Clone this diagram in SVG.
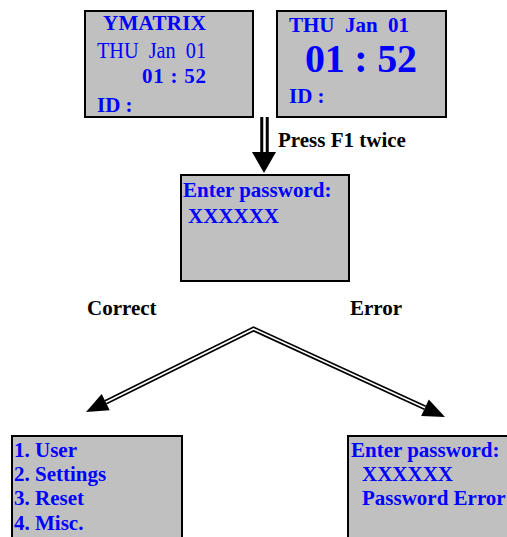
<svg xmlns="http://www.w3.org/2000/svg" width="507" height="537" viewBox="0 0 507 537">
<style>
.box{fill:#C0C0C0;stroke:#000;stroke-width:2}
.t{font-family:"Liberation Serif","Times New Roman",serif;font-size:21px;font-weight:bold;fill:#0000FF}
.tn{font-family:"Liberation Serif","Times New Roman",serif;font-size:23px;fill:#0000FF}
.lbl{font-family:"Liberation Serif","Times New Roman",serif;font-size:21px;font-weight:bold;fill:#000}
.outer{fill:none;stroke:#000;stroke-linejoin:miter}
.inner{fill:none;stroke:#fff;stroke-linejoin:miter}
</style>
<rect width="507" height="537" fill="#fff"/>
<g id="screen-idle-1">
<rect class="box" x="85" y="11" width="168" height="106"/>
<text class="t" x="103" y="30" textLength="103">YMATRIX</text>
<text class="tn" x="97" y="58" textLength="109" lengthAdjust="spacingAndGlyphs" xml:space="preserve">THU  Jan  01</text>
<text class="t" x="142" y="83" textLength="64" xml:space="preserve">01 : 52</text>
<text class="t" x="97" y="112" xml:space="preserve">ID :</text>
</g>
<g id="screen-idle-2">
<rect class="box" x="277" y="11" width="169" height="106"/>
<text class="t" x="289" y="32" textLength="120" xml:space="preserve">THU  Jan  01</text>
<text class="t" x="305" y="72" style="font-size:40px" textLength="112" xml:space="preserve">01 : 52</text>
<text class="t" x="289" y="103" xml:space="preserve">ID :</text>
</g>
<g id="screen-password">
<rect class="box" x="181" y="175" width="168" height="106"/>
<text class="t" x="183" y="197">Enter password:</text>
<text class="t" x="188" y="223">XXXXXX</text>
</g>
<g id="screen-menu">
<rect class="box" x="12" y="436" width="170" height="110"/>
<text class="t" x="14" y="457">1. User</text>
<text class="t" x="14" y="481">2. Settings</text>
<text class="t" x="14" y="505">3. Reset</text>
<text class="t" x="14" y="530">4. Misc.</text>
</g>
<g id="screen-error">
<rect class="box" x="348" y="436" width="170" height="110"/>
<text class="t" x="351" y="457">Enter password:</text>
<text class="t" x="362" y="481">XXXXXX</text>
<text class="t" x="362" y="505">Password Error</text>
</g>
<g id="connectors">
<line class="outer" x1="264.5" y1="117" x2="264.5" y2="154" stroke-width="8.5"/>
<line class="inner" x1="264.5" y1="117" x2="264.5" y2="154" stroke-width="2.5"/>
<polygon points="252,152 276,152 264,173" fill="#000"/>
<polyline class="outer" points="105.7,402.2 253.5,329 425,407.8" stroke-width="5"/>
<polyline class="inner" points="105.7,402.2 253.5,329 425,407.8" stroke-width="1.6"/>
<polygon points="86,412 109.7,410.3 101.7,394.1" fill="#000"/>
<polygon points="445,417 421.2,416 428.8,399.6" fill="#000"/>
<text class="lbl" x="278" y="147">Press F1 twice</text>
<text class="lbl" x="87" y="315">Correct</text>
<text class="lbl" x="350" y="315">Error</text>
</g>
</svg>
